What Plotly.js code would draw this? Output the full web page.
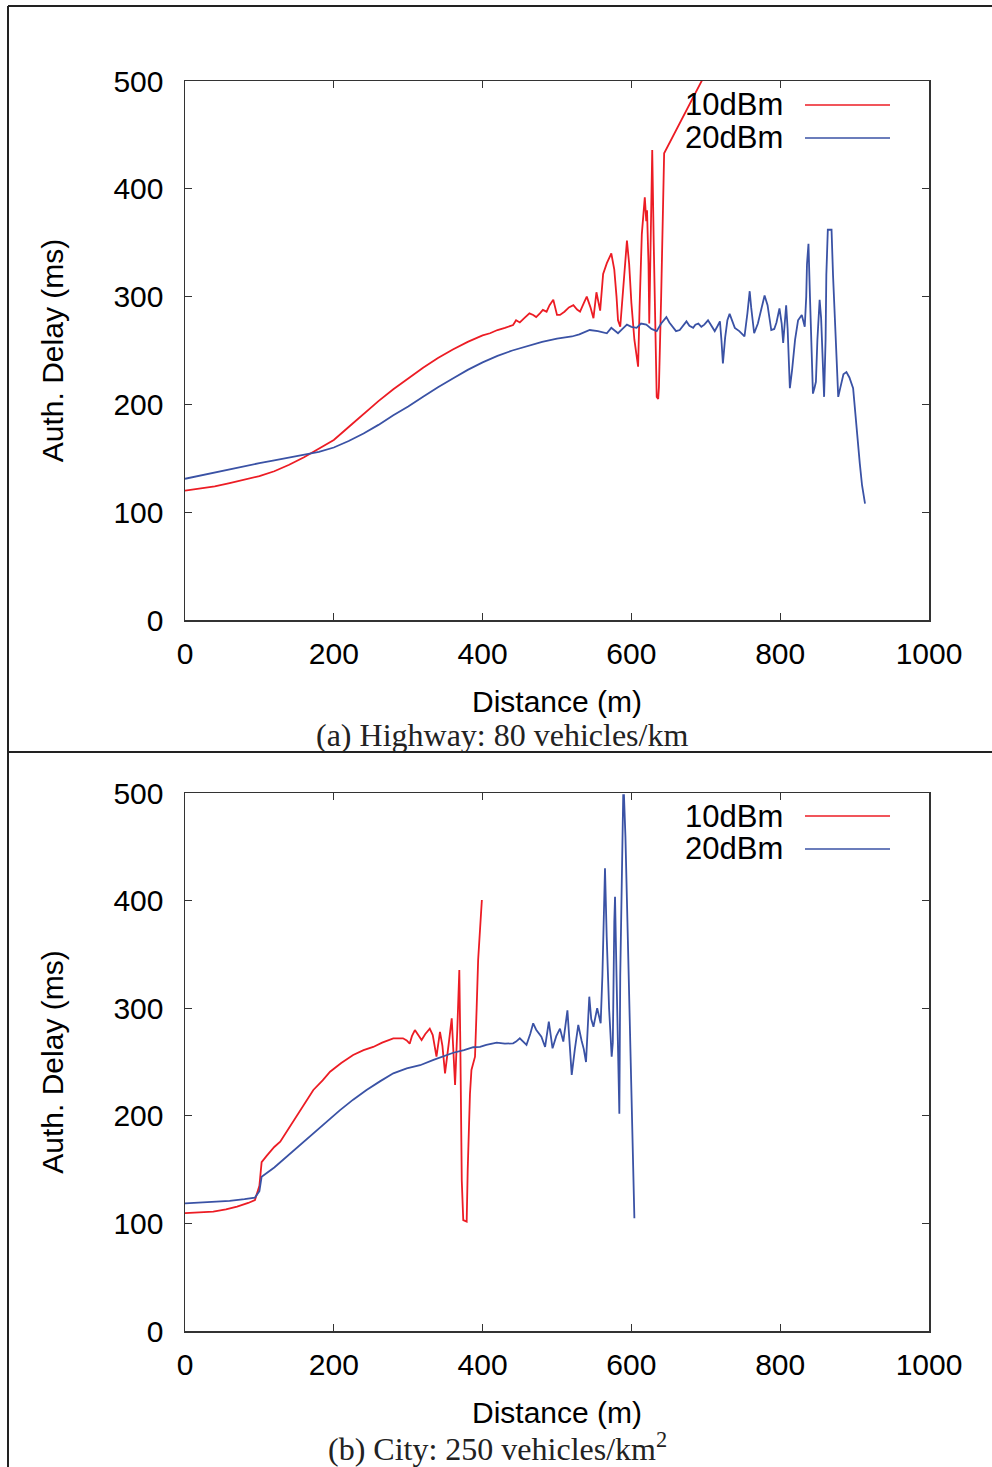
<!DOCTYPE html>
<html><head><meta charset="utf-8">
<script src="https://cdn.plot.ly/plotly-3.0.1.min.js"></script>
<style>html,body{margin:0;padding:0;background:#fff}#chart{width:992px;height:1467px}</style>
</head><body><div id="chart"></div>
<script>
// ---- (a) Highway: 80 vehicles/km ----
const hwy10x = [0,20,40,60,80,100,120,140,160,180,200,220,240,260,280,300,320,340,360,380,400,410,420,430,441,445,450,456,463,468,472,477,481,486,490,495,500,504,510,516,522,527,531,536,540,545,549,553,556,558,562,567,573,577,580,582,585,590,594,597,600,604,607,609,611,614,618,620,621,623,624,626,628,630,632,634,636,637,640,642,644,720];
const hwy10y = [120,122,124,127,130,133.5,138,144,151,159,167,179,191,203,214,224,234,243,251,258,264,266,269,271,273.6,278,276,280,284.5,283,281,284.5,287.6,286,292,297,283,283,286,290,292,288,286,294,300,290,280,304,292,287,321,331,340,325,300,278,272,320,352,330,294,260,244,235,290,358,392,370,380,330,275,350,436,350,260,207,205,216,300,380,433,534];
const hwy20x = [0,20,40,60,80,100,120,140,160,180,200,220,240,260,280,300,320,340,360,380,400,420,440,460,480,500,520,530,544,555,567,573,578,582,588,594,600,607,613,620,627,634,640,647,651,656,660,665,670,674,678,683,686,690,694,698,703,707,712,716,719,721,723,726,729,732,735,739,745,752,756,759,761,765,770,775,779,783,788,792,795,799,802,804,806,808,810,813,816,820,824,829,833,835,836,838,840,842,844,846,848,850,853,855,857,859,861,862,864,869,871,873,876,878,881,885,889,893,898,901,904,907,910,914];
const hwy20y = [131,134,137,140,143,145.5,148,150.5,153,156,160,166,173,181,190,198,207,216,224,232,239,245,250,254,258,261,263,265,269,268,266,271,268,266,270,274,272,271,275,274,270,268,275,281,276,272,268,269,274,277,273,271,274,275,272,274,278,274,268,273,277,260,238,262,278,284,279,271,268,263,285,305,290,266,275,290,301,292,269,270,276,289,275,257,275,292,270,215,232,260,278,283,272,300,330,349,300,250,210,215,221,260,297,280,240,207,260,320,362,362,320,290,240,207,216,228,230,225,215,190,165,145,125,108];

// ---- (b) City: 250 vehicles/km^2 ----
const city10x = [0,20,38,55,70,85,94,100,103,110,120,128,140,150,160,172.5,185,195,210,226,240,253,265,280,293,298,302,305,309,313,318,323,329,333,338,342.7,346,349.5,353,355,358.5,361,363,366,368.7,370,371,372,374,378.6,380,383,385,389.8,392,394,399];
const city10y = [109.5,110,111,113,115.5,119,121.7,135,157,163,171,176,189,200.7,211,224,233,241,249,256.5,261,264,268,272,272,270,267,274,279.7,276,270.4,276,281,275,255,278,265,239.5,262,270,290.6,262,228.6,280,335.5,270,180,140,103,101.6,150,220,242.6,255,300,344.8,400.5];
const city20x = [0,20,38,60,80,94,100,103,120,136.7,155,172.5,190,208,226,244,262,280,298,316,334,347,360.6,375,387.5,396.5,405,419,430,441,445,450,455,459,464,468,472,476,479,484,489,494,499,504,508.5,514,517,519.8,524,528.6,533,536,539,541,543.4,546,549,554,558.7,561,563,564.5,566.8,570,573.5,575,577,578,580,582,583.8,585,587,589,590,592,594,596,598,600,602,604];
const city20y = [118.7,119.3,120,121,122.5,124,130,143.4,152,162,173,183.7,194.5,205,215,224,232,239.5,244,247,252,255,258.6,261,263.7,264,266,268,267,267.4,269,272,269,266,276,286,280,276,273.5,264,287.5,262.7,274,281,269,298,270,238,262,284.4,270,262,250,280,310.7,290,282.8,300,286,330,400,430,366.5,300,255,268,380,403.6,330,250,202,330,428,498,498,459,400,345,280,214.7,160,104.7];

const seriesNames = ['10dBm','20dBm'];
const xTicks = [0,200,400,600,800,1000];
const yTicks = [0,100,200,300,400,500];
const captions = ['(a) Highway: 80 vehicles/km','(b) City: 250 vehicles/km<sup>2</sup>'];

const RED = '#ec1c24', BLUE = '#3a52a5';
const W = 992, H = 1467;
const px = v => v / W, py = v => 1 - v / H;

const traces = [
  {x: hwy10x, y: hwy10y, name: seriesNames[0], mode: 'lines', line: {color: RED, width: 1.8}, xaxis: 'x', yaxis: 'y', showlegend: false},
  {x: hwy20x, y: hwy20y, name: seriesNames[1], mode: 'lines', line: {color: BLUE, width: 1.8}, xaxis: 'x', yaxis: 'y', showlegend: false},
  {x: city10x, y: city10y, name: seriesNames[0], mode: 'lines', line: {color: RED, width: 1.8}, xaxis: 'x2', yaxis: 'y2', showlegend: false},
  {x: city20x, y: city20y, name: seriesNames[1], mode: 'lines', line: {color: BLUE, width: 1.8}, xaxis: 'x2', yaxis: 'y2', showlegend: false}
];

const tickFont = {family: 'Liberation Sans, Arial, sans-serif', size: 30, color: '#000'};
const legFont = {family: 'Liberation Sans, Arial, sans-serif', size: 31, color: '#000'};
function xax(anchor, dom) {
  return {domain: dom, anchor: anchor, range: [0, 1000], tickvals: xTicks, ticktext: xTicks.map(String),
    ticks: 'inside', ticklen: 7, tickwidth: 1.2, tickcolor: '#333', showline: true, linecolor: '#333', linewidth: 1.5,
    mirror: 'ticks', showgrid: false, zeroline: false, tickfont: tickFont, ticklabelstandoff: 6,
    title: {text: 'Distance (m)', font: tickFont, standoff: 22}};
}
function yax(anchor, dom) {
  return {domain: dom, anchor: anchor, range: [0, 500], tickvals: yTicks, ticktext: yTicks.map(String),
    ticks: 'inside', ticklen: 7, tickwidth: 1.2, tickcolor: '#333', showline: true, linecolor: '#333', linewidth: 1.5,
    mirror: 'ticks', showgrid: false, zeroline: false, tickfont: tickFont, ticklabelstandoff: 14,
    title: {text: 'Auth. Delay (ms)', font: tickFont, standoff: 41}};
}

const xd = [px(185), px(929)];
const layout = {
  width: W, height: H, margin: {l: 0, r: 0, t: 0, b: 0}, paper_bgcolor: '#fff', plot_bgcolor: '#fff',
  showlegend: false,
  xaxis: xax('y', xd), yaxis: yax('x', [py(620), py(81)]),
  xaxis2: xax('y2', xd), yaxis2: yax('x2', [py(1331), py(793)]),
  shapes: [
    {type: 'line', xref: 'paper', yref: 'paper', x0: px(8), x1: px(8), y0: 0, y1: py(6), line: {color: '#222', width: 2}},
    {type: 'line', xref: 'paper', yref: 'paper', x0: px(8), x1: 1, y0: py(6), y1: py(6), line: {color: '#222', width: 2}},
    {type: 'line', xref: 'paper', yref: 'paper', x0: px(8), x1: 1, y0: py(752), y1: py(752), line: {color: '#222', width: 2}},
    {type: 'line', xref: 'paper', yref: 'paper', x0: px(805), x1: px(890), y0: py(105), y1: py(105), line: {color: RED, width: 1.3}},
    {type: 'line', xref: 'paper', yref: 'paper', x0: px(805), x1: px(890), y0: py(138), y1: py(138), line: {color: BLUE, width: 1.3}},
    {type: 'line', xref: 'paper', yref: 'paper', x0: px(805), x1: px(890), y0: py(816), y1: py(816), line: {color: RED, width: 1.3}},
    {type: 'line', xref: 'paper', yref: 'paper', x0: px(805), x1: px(890), y0: py(849), y1: py(849), line: {color: BLUE, width: 1.3}}
  ],
  annotations: [
    {text: seriesNames[0], xref: 'paper', yref: 'paper', x: px(785), y: py(105), xanchor: 'right', yanchor: 'middle', showarrow: false, font: legFont},
    {text: seriesNames[1], xref: 'paper', yref: 'paper', x: px(785), y: py(138), xanchor: 'right', yanchor: 'middle', showarrow: false, font: legFont},
    {text: seriesNames[0], xref: 'paper', yref: 'paper', x: px(785), y: py(816), xanchor: 'right', yanchor: 'middle', showarrow: false, font: legFont},
    {text: seriesNames[1], xref: 'paper', yref: 'paper', x: px(785), y: py(849), xanchor: 'right', yanchor: 'middle', showarrow: false, font: legFont},
    {text: captions[0], xref: 'paper', yref: 'paper', x: px(502), y: py(735), xanchor: 'center', yanchor: 'middle', showarrow: false,
      font: {family: 'Liberation Serif, Times New Roman, serif', size: 32, color: '#222'}},
    {text: captions[1], xref: 'paper', yref: 'paper', x: px(497), y: py(1447), xanchor: 'center', yanchor: 'middle', showarrow: false,
      font: {family: 'Liberation Serif, Times New Roman, serif', size: 32, color: '#222'}}
  ]
};
Plotly.newPlot('chart', traces, layout, {displayModeBar: false, staticPlot: true});
</script></body></html>
